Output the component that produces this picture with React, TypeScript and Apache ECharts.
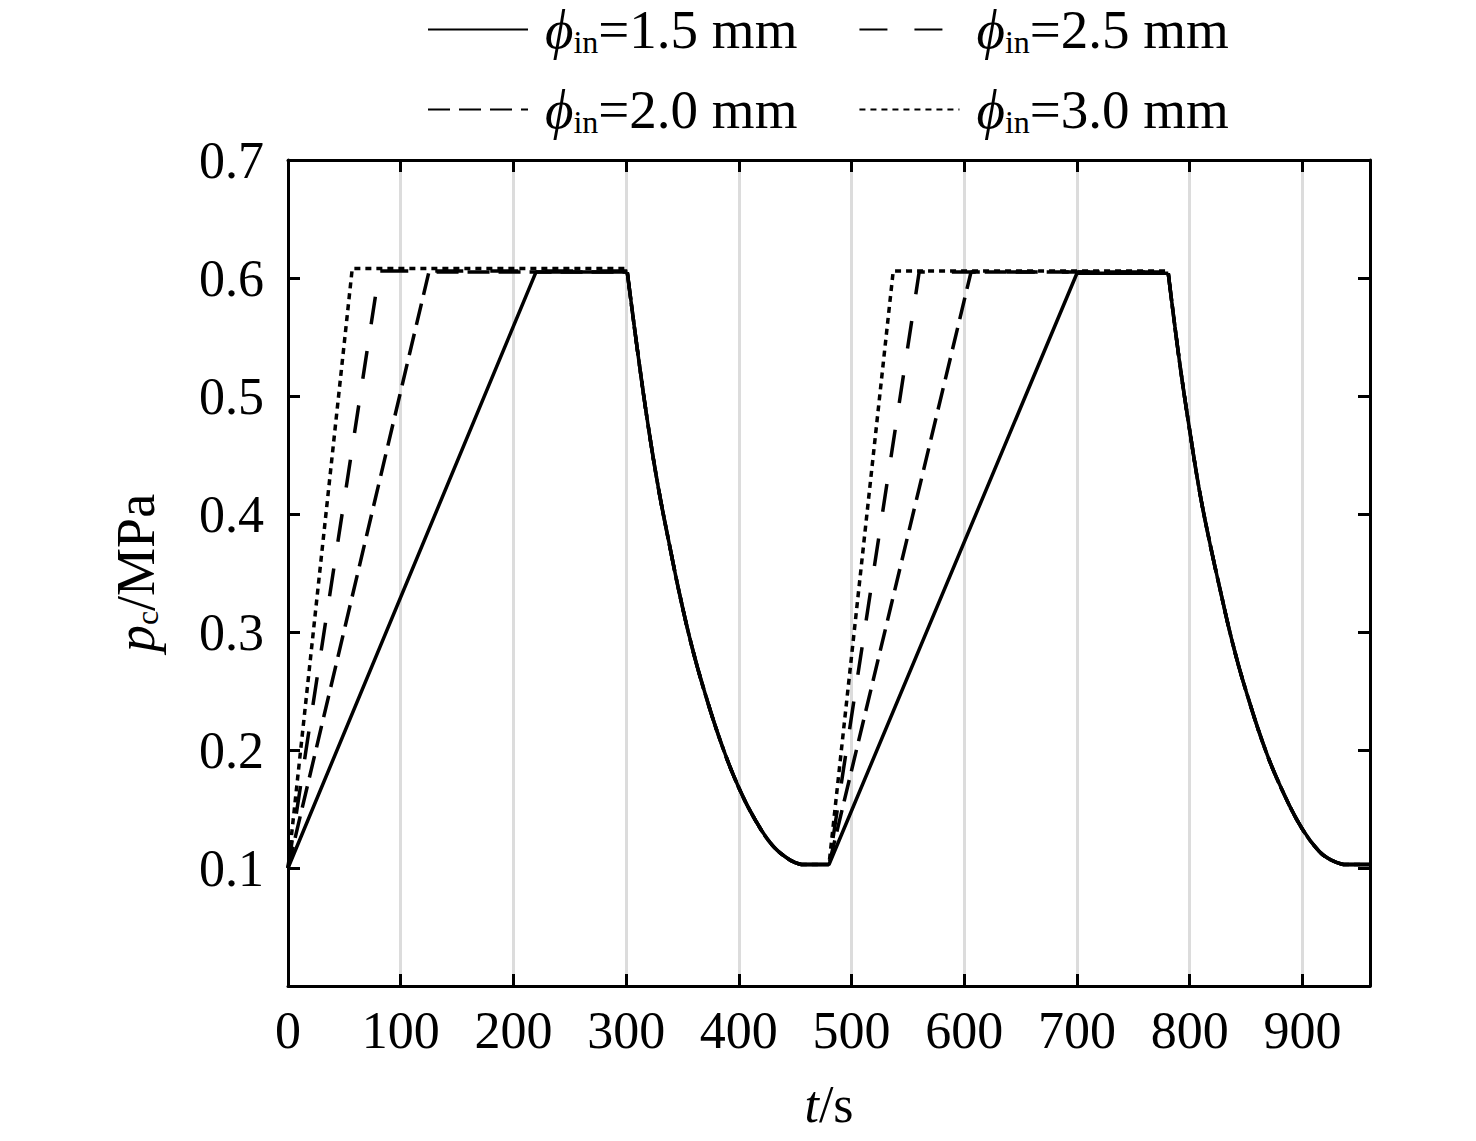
import { useEffect, useRef } from "react";
import * as echarts from "echarts";

const FONT = '"Liberation Serif", "Times New Roman", serif';

// pipe diameters (legend order: 1.5, 2.5 / 2.0, 3.0)
const diameters = ["1.5", "2.0", "2.5", "3.0"];
const dashes: (number[] | "solid")[] = ["solid", [22, 9], [28, 27], [6, 5]];

// charging ramp + plateau of the first cycle
const rise1 = [
  [[0, 0.1], [220, 0.605], [301, 0.605]],
  [[0, 0.1], [125, 0.605], [301, 0.605]],
  [[0, 0.1], [81, 0.606], [301, 0.606]],
  [[0, 0.1], [57, 0.608], [301, 0.608]],
];
// bottom dwell, second ramp + plateau
const rise2 = [
  [[455, 0.103], [480, 0.103], [700, 0.604], [781, 0.604]],
  [[455, 0.103], [480, 0.103], [606, 0.605], [781, 0.605]],
  [[455, 0.103], [480, 0.103], [560, 0.605], [781, 0.605]],
  [[455, 0.103], [480, 0.103], [537, 0.606], [781, 0.606]],
];
// discharge curves (the same for every diameter)
const decay1 = [
  [301, 0.605], [311, 0.532], [320, 0.472], [329, 0.42], [338, 0.376], [347, 0.334],
  [358, 0.289], [370, 0.248], [385, 0.204], [400, 0.168], [415, 0.14],
  [430, 0.119], [445, 0.107], [455, 0.103],
];
const decay2 = [
  [781, 0.604], [791, 0.529], [800, 0.471], [809, 0.418], [818, 0.375], [827, 0.336],
  [838, 0.291], [850, 0.25], [868, 0.198], [885, 0.16], [900, 0.133],
  [915, 0.114], [925, 0.107], [936, 0.103],
];
const tail = [[936, 0.103], [960, 0.103]];

const names = diameters.map((d) => `ϕin=${d} mm`);

const legendRich = {
  phi: { fontFamily: FONT, fontStyle: "italic" as const, fontSize: 55, color: "#000" },
  sub: { fontFamily: FONT, fontSize: 32, color: "#000", padding: [24, 0, 0, 0] },
  n: { fontFamily: FONT, fontSize: 55, color: "#000" },
};

const legendFormatter = (name: string) => `{phi|ϕ}{sub|in}{n|${name.slice(3)}}`;

const axisLine = { show: true, onZero: false, lineStyle: { color: "#000", width: 3 } };
const axisTick = { show: true, inside: true, length: 12, lineStyle: { color: "#000", width: 3 } };

export default function App() {
  const chartRef = useRef(null);

  useEffect(() => {
    document.body.style.margin = "0";
    const chart = echarts.init(chartRef.current, null, { renderer: "svg" });

    const legendBase = {
      orient: "horizontal",
      left: 427,
      padding: 0,
      itemWidth: 100,
      itemHeight: 20,
      itemGap: 61,
      itemStyle: { opacity: 0 },
      textStyle: { color: "#000", padding: [0, 0, 0, 12], rich: legendRich },
      formatter: legendFormatter,
    };

    const line = (i: number, data: number[][], smooth: boolean) => ({
      name: names[i],
      type: "line",
      data,
      smooth: smooth ? 0.4 : false,
      symbol: "none",
      showSymbol: false,
      itemStyle: { color: "#000" },
      lineStyle: { color: "#000", width: 3.5, type: dashes[i] },
    });

    const series: any[] = [];
    diameters.forEach((_, i) => {
      series.push(line(i, rise1[i], false));
      series.push(line(i, decay1, true));
      series.push(line(i, rise2[i], false));
      series.push(line(i, decay2, true));
      series.push(line(i, tail, false));
    });

    const options = {
      animation: false,
      backgroundColor: "#fff",
      legend: [
        { ...legendBase, top: 2, data: [names[0], names[2]] },
        { ...legendBase, top: 82, data: [names[1], names[3]] },
      ],
      grid: { left: 288, right: 106, top: 160, bottom: 155 },
      xAxis: [
        {
          type: "value",
          min: 0,
          max: 960,
          interval: 100,
          position: "bottom",
          axisLine,
          axisTick,
          axisLabel: { fontFamily: FONT, fontSize: 52, color: "#000", margin: 18, showMaxLabel: false },
          splitLine: { show: true, lineStyle: { color: "#dcdcdc", width: 3 } },
          name: "{i|t}{n|/s}",
          nameLocation: "middle",
          nameGap: 92,
          nameTextStyle: {
            rich: {
              i: { fontFamily: FONT, fontStyle: "italic", fontSize: 52, color: "#000" },
              n: { fontFamily: FONT, fontSize: 52, color: "#000" },
            },
          },
        },
        {
          type: "value",
          min: 0,
          max: 960,
          interval: 100,
          position: "top",
          axisLine,
          axisTick,
          axisLabel: { show: false },
          splitLine: { show: false },
        },
      ],
      yAxis: [
        {
          type: "value",
          min: 0,
          max: 0.7,
          interval: 0.1,
          position: "left",
          axisLine,
          axisTick,
          axisLabel: {
            fontFamily: FONT,
            fontSize: 52,
            color: "#000",
            margin: 24,
            formatter: (v: number) => (v === 0 ? "" : v.toFixed(1)),
          },
          splitLine: { show: false },
          name: "{i|p}{sub|c}{n|/MPa}",
          nameLocation: "middle",
          nameGap: 125,
          nameTextStyle: {
            rich: {
              i: { fontFamily: FONT, fontStyle: "italic", fontSize: 54, color: "#000" },
              sub: { fontFamily: FONT, fontSize: 32, color: "#000", padding: [22, 0, 0, 0] },
              n: { fontFamily: FONT, fontSize: 54, color: "#000" },
            },
          },
        },
        {
          type: "value",
          min: 0,
          max: 0.7,
          interval: 0.1,
          position: "right",
          axisLine,
          axisTick,
          axisLabel: { show: false },
          splitLine: { show: false },
        },
      ],
      series,
    };

    chart.setOption(options);

    return () => {
      chart.dispose();
    };
  }, []);

  return <div ref={chartRef} style={{ width: "1476px", height: "1141px" }} />;
}
